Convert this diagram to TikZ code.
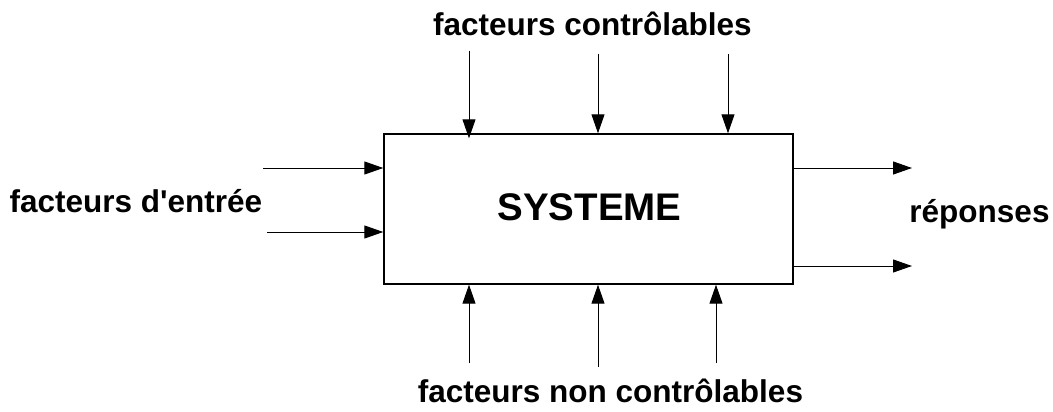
\documentclass[tikz,border=0pt]{standalone}
\usepackage{fontspec}
\setmainfont{Liberation Sans}
\usetikzlibrary{arrows.meta}
\tikzset{
  lbl/.style={font=\bfseries\fontsize{31.5}{36}\selectfont, inner sep=0pt, anchor=base},
  sysbox/.style={draw, line width=1.4pt, inner sep=0pt},
  flow/.style={line width=1pt, -{Triangle[length=19pt,width=13pt]}}
}
\begin{document}
\begin{tikzpicture}[x=1pt,y=-1pt]
\useasboundingbox (0,0) rectangle (1053,412);
\node[sysbox, minimum width=409pt, minimum height=150pt] (box) at (588.5,209) {};
\node[lbl, font=\bfseries\fontsize{38.5}{44}\selectfont] (sys) at (589.5,220) {SYSTEME};
\node[lbl] (ctl) at (592.5,36) {facteurs contrôlables};
\node[lbl] (nctl) at (610.5,402) {facteurs non contrôlables};
\node[lbl] (ent) at (136,212) {facteurs d\textquotesingle entrée};
\node[lbl] (rep) at (979.5,222) {réponses};
% top arrows
\coordinate (t1) at (469,51);
\coordinate (t2) at (598,54);
\coordinate (t3) at (728,54);
\draw[flow, shorten >=-5pt] (t1) -- (t1 |- box.north);
\draw[flow] (t2) -- (t2 |- box.north);
\draw[flow] (t3) -- (t3 |- box.north);
% bottom arrows
\coordinate (b1) at (469,363);
\coordinate (b2) at (598,367);
\coordinate (b3) at (716,363);
\draw[flow] (b1) -- (b1 |- box.south);
\draw[flow] (b2) -- (b2 |- box.south);
\draw[flow] (b3) -- (b3 |- box.south);
% left arrows
\coordinate (l1) at (263,168);
\coordinate (l2) at (267,232);
\draw[flow] (l1) -- (l1 -| box.west);
\draw[flow] (l2) -- (l2 -| box.west);
% right arrows
\coordinate (r1) at (912,168);
\coordinate (r2) at (912,266);
\draw[flow] (r1 -| box.east) -- (r1);
\draw[flow] (r2 -| box.east) -- (r2);
\end{tikzpicture}
\end{document}
